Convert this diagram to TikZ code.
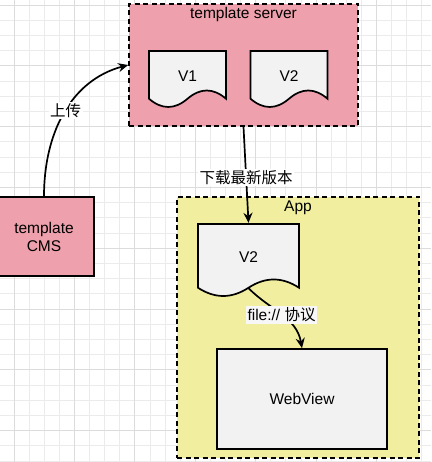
\documentclass[tikz,border=0pt]{standalone}
\usepackage{fontspec}
\setmainfont{Liberation Sans}
\newfontfamily\cjk{Noto Sans CJK SC}
\usepackage{xcolor}
\usepackage{tikz}
\usetikzlibrary{arrows.meta, calc}

\definecolor{pinkfill}{HTML}{EEA0AC}
\definecolor{yellowfill}{HTML}{F1EF9F}
\definecolor{docgray}{HTML}{F2F2F2}
\definecolor{gridminor}{HTML}{EBEBEB}
\definecolor{gridmajor}{HTML}{DCDCDC}

\begin{document}
\begin{tikzpicture}[
    x=1pt, y=1pt,
    font=\fontsize{15.5}{18}\selectfont,
    gridline/.style={gridminor, line width=0.8pt},
    gridmajorline/.style={gridmajor, line width=0.9pt},
    container/.style={draw, line width=1.7pt, dash pattern=on 5pt off 3.5pt},
    serverbox/.style={container, fill=pinkfill, minimum width=229pt, minimum height=122pt},
    appbox/.style={container, fill=yellowfill, minimum width=242pt, minimum height=261pt},
    box/.style={draw, line width=1.7pt, align=center},
    docbox/.style={minimum width=#1, text depth=6pt,
        path picture={
            \draw[line width=1.7pt, fill=docgray]
                let \p1=(path picture bounding box.north west),
                    \p2=(path picture bounding box.south east),
                    \n1={(\x2-\x1-2pt)/6},
                    \n2={\y2+9.25pt}
                in (\x1+1pt,\y1-1pt) -- (\x2-1pt,\y1-1pt) -- (\x2-1pt,\n2)
                .. controls (\x2-1pt-\n1,\n2+11) and (\x2-1pt-2*\n1,\n2+11) .. ({(\x1+\x2)/2},\n2)
                .. controls (\x1+1pt+2*\n1,\n2-11) and (\x1+1pt+\n1,\n2-11) .. (\x1+1pt,\n2)
                -- cycle;
        }},
    arrow/.style={-{Stealth[length=10pt, width=9pt]}, line width=1.7pt},
    tag/.style={fill=white, inner sep=1.5pt},
]
\useasboundingbox (0,0) rectangle (431,462);

% Grid (background)
\fill[white] (0,0) rectangle (431,462);
\foreach \i in {0,...,27}
    \draw[gridline] ({14+15.1*\i},0) -- ({14+15.1*\i},462);
\foreach \j in {0,...,30}
    \draw[gridline] (0,{457-15.2*\j}) -- (431,{457-15.2*\j});
\foreach \i in {0,4,...,24}
    \draw[gridmajorline] ({14+15.1*\i},0) -- ({14+15.1*\i},462);
\foreach \j in {0,4,...,28}
    \draw[gridmajorline] (0,{457-15.2*\j}) -- (431,{457-15.2*\j});

% Template server (top)
\node[serverbox] (server) at (243.5,397) {};
\node (title_server) at (243.5,447) {template server};
\node[docbox=79pt, minimum height=58pt] (v1) at (187.5,383) {V1};
\node[docbox=79pt, minimum height=58pt] (v2) at (289,383) {V2};

% CMS (left)
\node[box, fill=pinkfill, minimum width=100pt, minimum height=79pt] (cms) at (44,225.5) {template\\CMS};

% App (right)
\node[appbox] (app) at (298,134.5) {};
\node (title_app) at (298,254) {App};
\node[docbox=103pt, minimum height=74pt] (appv2) at (248.5,202) {V2};
\node[box, fill=docgray, minimum width=170pt, minimum height=100pt] (webview) at (302,63) {WebView};

\draw[arrow] (cms.north) to[out=90, in=195] node[tag, pos=0.52] {\cjk 上传} (server.west);
\draw[arrow] (server.south) -- node[tag, pos=0.53] {\cjk 下载最新版本} (appv2.north);
\draw[arrow] ([yshift=9pt]appv2.south) to[out=-45, in=100] node[tag, fill=docgray!60!white] {file:// {\cjk 协议}} (webview.north);

\end{tikzpicture}
\end{document}
